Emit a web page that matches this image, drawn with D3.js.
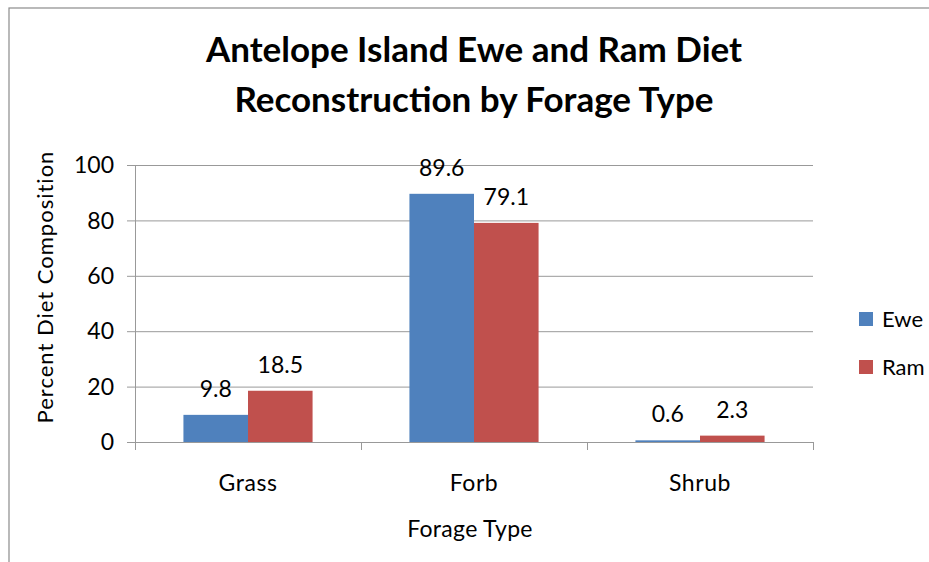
<!DOCTYPE html>
<html><head><meta charset="utf-8">
<script src="https://cdn.jsdelivr.net/npm/d3@7"></script>
<style>body{margin:0;background:#fff}svg{display:block}text{font-family:Lato,"Liberation Sans",sans-serif}</style>
</head><body><svg id="c" width="929" height="562"></svg>
<script>
const categories = ["Grass", "Forb", "Shrub"];
const seriesNames = ["Ewe", "Ram"];
const ewe = [9.8, 89.6, 0.6];
const ram = [18.5, 79.1, 2.3];
const yTicks = [0, 20, 40, 60, 80, 100];
const colors = ["#4F81BD", "#C0504D"];
const series = [ewe, ram];

const svg = d3.select("#c");
svg.append("rect").attr("x", 9).attr("y", 8).attr("width", 940).attr("height", 600)
  .attr("fill", "none").attr("stroke", "#8c8c8c").attr("stroke-width", 1.2);

const L = 135, R = 813, T = 165, B = 442;
const x = d3.scaleBand().domain(categories).range([L, R]).paddingInner(0).paddingOuter(0);
const y = d3.scaleLinear().domain([0, 100]).range([B, T]);

// gridlines
svg.append("g").selectAll("line").data(yTicks).join("line")
  .attr("x1", L - 8).attr("x2", R).attr("y1", d => y(d) + 0.5).attr("y2", d => y(d) + 0.5)
  .attr("stroke", "#999").attr("stroke-width", 1);
// y axis line
svg.append("line").attr("x1", L + 0.5).attr("x2", L + 0.5).attr("y1", T).attr("y2", B + 8)
  .attr("stroke", "#999");
// category tick marks
svg.append("g").selectAll("line").data(d3.range(categories.length + 1)).join("line")
  .attr("x1", i => L + i * x.bandwidth() + 0.5).attr("x2", i => L + i * x.bandwidth() + 0.5)
  .attr("y1", B).attr("y2", B + 8).attr("stroke", "#999");

// y tick labels
svg.append("g").selectAll("text").data(yTicks).join("text")
  .attr("x", L - 21).attr("y", d => y(d)).attr("dy", "0.36em").attr("text-anchor", "end")
  .attr("font-size", 23).attr("fill", "#000").text(d => d);

// bars
const bw = x.bandwidth() / 3.5;
const g = svg.append("g");
series.forEach((s, si) => {
  g.selectAll(".b" + si).data(s).join("rect")
    .attr("x", (d, i) => x(categories[i]) + x.bandwidth() / 2 - bw + si * bw)
    .attr("width", bw)
    .attr("y", d => y(d)).attr("height", d => B - y(d))
    .attr("fill", colors[si]);
  g.selectAll(".l" + si).data(s).join("text")
    .attr("x", (d, i) => x(categories[i]) + x.bandwidth() / 2 - bw + si * bw + bw / 2)
    .attr("y", d => y(d) - 18)
    .attr("text-anchor", "middle").attr("font-size", 23).attr("fill", "#000")
    .text(d => d.toFixed(1));
});

// category labels
svg.append("g").selectAll("text").data(categories).join("text")
  .attr("x", d => x(d) + x.bandwidth() / 2).attr("y", 491).attr("text-anchor", "middle")
  .attr("font-size", 23).attr("letter-spacing", 0.6).text(d => d);

// axis titles
svg.append("text").attr("x", 470).attr("y", 537).attr("text-anchor", "middle")
  .attr("font-size", 23).attr("letter-spacing", 0.3).text("Forage Type");
svg.append("text").attr("transform", "translate(53,287) rotate(-90)").attr("text-anchor", "middle")
  .attr("font-size", 22).attr("letter-spacing", 1).text("Percent Diet Composition");

// title
svg.append("text").attr("x", 474).attr("y", 62).attr("text-anchor", "middle")
  .attr("font-size", 35).attr("font-weight", "bold").text("Antelope Island Ewe and Ram Diet");
svg.append("text").attr("x", 474).attr("y", 112).attr("text-anchor", "middle")
  .attr("font-size", 35).attr("font-weight", "bold").text("Reconstruction by Forage Type");

// legend
const lg = svg.append("g");
seriesNames.forEach((n, i) => {
  lg.append("rect").attr("x", 859).attr("y", 312 + i * 48).attr("width", 14).attr("height", 14).attr("fill", colors[i]);
  lg.append("text").attr("x", 882).attr("y", 319 + i * 48).attr("dy", "0.36em").attr("font-size", 22).text(n);
});
</script></body></html>
